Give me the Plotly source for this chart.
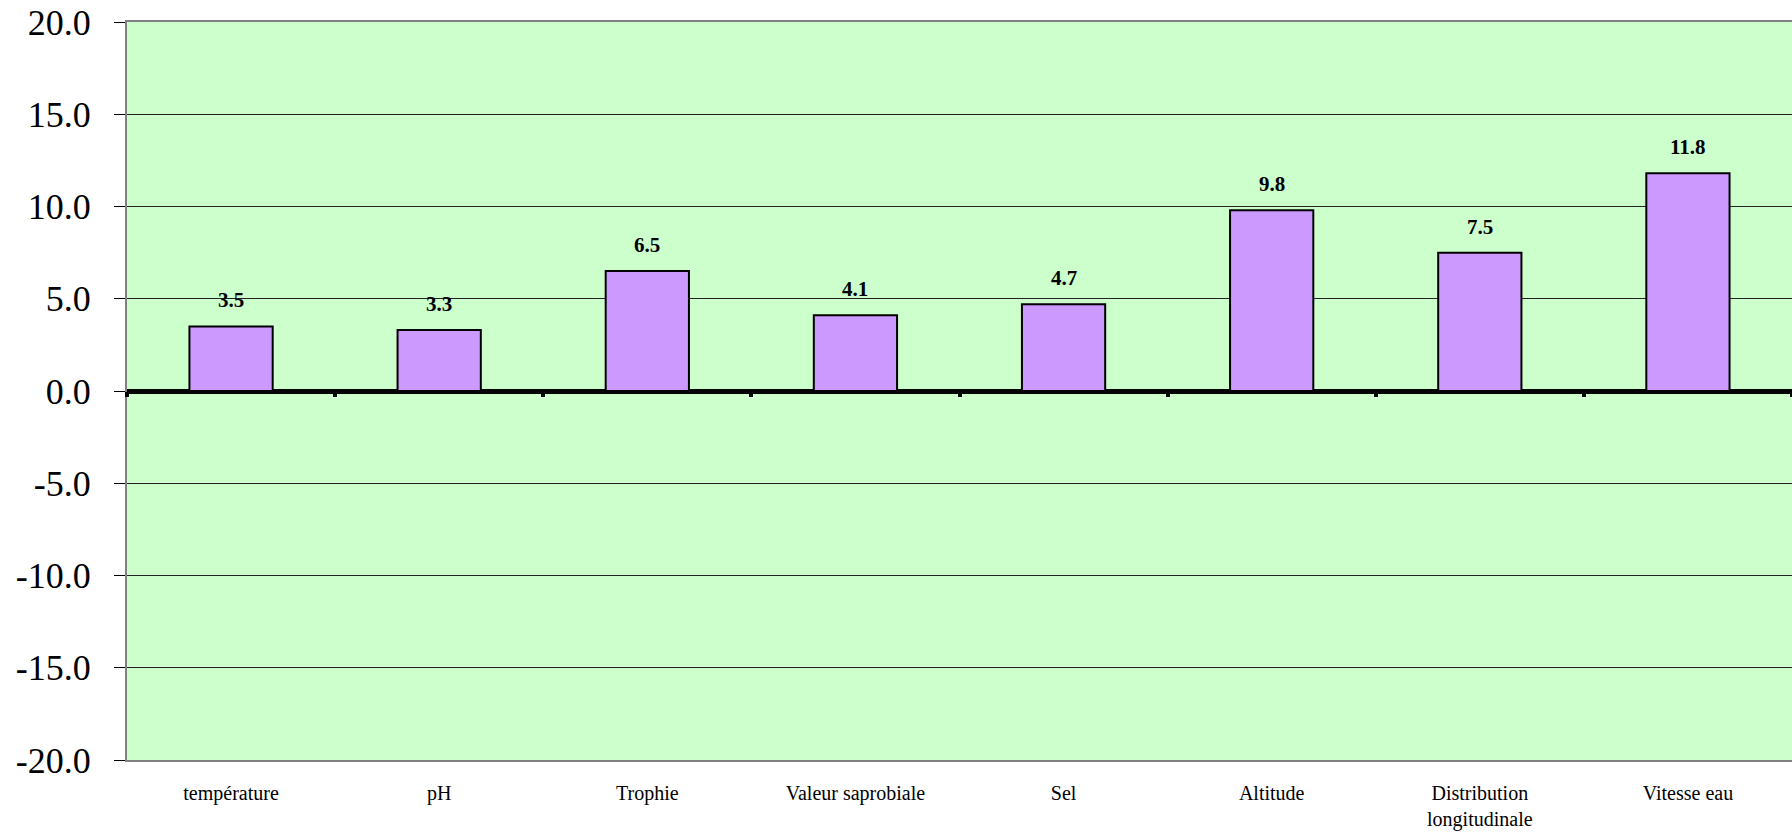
import plotly.graph_objects as go

categories = ["température", "pH", "Trophie", "Valeur saprobiale", "Sel",
              "Altitude", "Distribution<br>longitudinale", "Vitesse eau"]
values = [3.5, 3.3, 6.5, 4.1, 4.7, 9.8, 7.5, 11.8]
y_ticks = [20, 15, 10, 5, 0, -5, -10, -15, -20]
y_tick_labels = [f"{v:.1f}" for v in y_ticks]

FONT = "Liberation Serif"

fig = go.Figure()
fig.add_trace(go.Bar(
    x=categories, y=values,
    marker=dict(color="#CC99FF", line=dict(color="black", width=2)),
    width=0.4,
    hoverinfo="skip",
))

for c, v in zip(categories, values):
    fig.add_annotation(x=c, y=v, text=f"<b>{v:.1f}</b>", showarrow=False,
                       yanchor="bottom", yshift=12,
                       font=dict(family=FONT, size=21, color="black"))

n = len(categories)
fig.update_layout(
    width=1792, height=834,
    margin=dict(l=127, r=0, t=22, b=74, autoexpand=False),
    paper_bgcolor="white",
    plot_bgcolor="#CCFFCC",
    showlegend=False,
    font=dict(family=FONT, color="black"),
    xaxis=dict(
        type="category", categoryorder="array", categoryarray=categories,
        range=[-0.5, n - 0.5],
        showgrid=False, zeroline=False,
        showline=True, linecolor="#808080", linewidth=2, mirror=True,
        ticks="", tickfont=dict(family=FONT, size=20, color="black"),
        ticklabelstandoff=14,
    ),
    xaxis2=dict(
        overlaying="x", anchor="free", position=0.5,
        range=[-0.5, n - 0.5],
        tickvals=[i - 0.5 for i in range(n + 1)],
        showticklabels=False, ticks="outside", ticklen=5, tickwidth=4,
        tickcolor="black", showgrid=False, zeroline=False, showline=False,
    ),
    yaxis=dict(
        range=[-20, 20],
        tickvals=y_ticks, ticktext=y_tick_labels,
        showgrid=True, gridcolor="#222222", gridwidth=1,
        zeroline=True, zerolinecolor="black", zerolinewidth=5,
        showline=True, linecolor="#808080", linewidth=2, mirror=False,
        ticks="outside", ticklen=11, tickcolor="black", tickwidth=1,
        tickfont=dict(family=FONT, size=36, color="black"),
        ticklabelstandoff=16,
    ),
)

# invisible trace so xaxis2 renders
fig.add_trace(go.Scatter(x=[0], y=[0], xaxis="x2", mode="markers",
                         marker=dict(opacity=0), hoverinfo="skip",
                         showlegend=False))

fig.write_html("out.html")
